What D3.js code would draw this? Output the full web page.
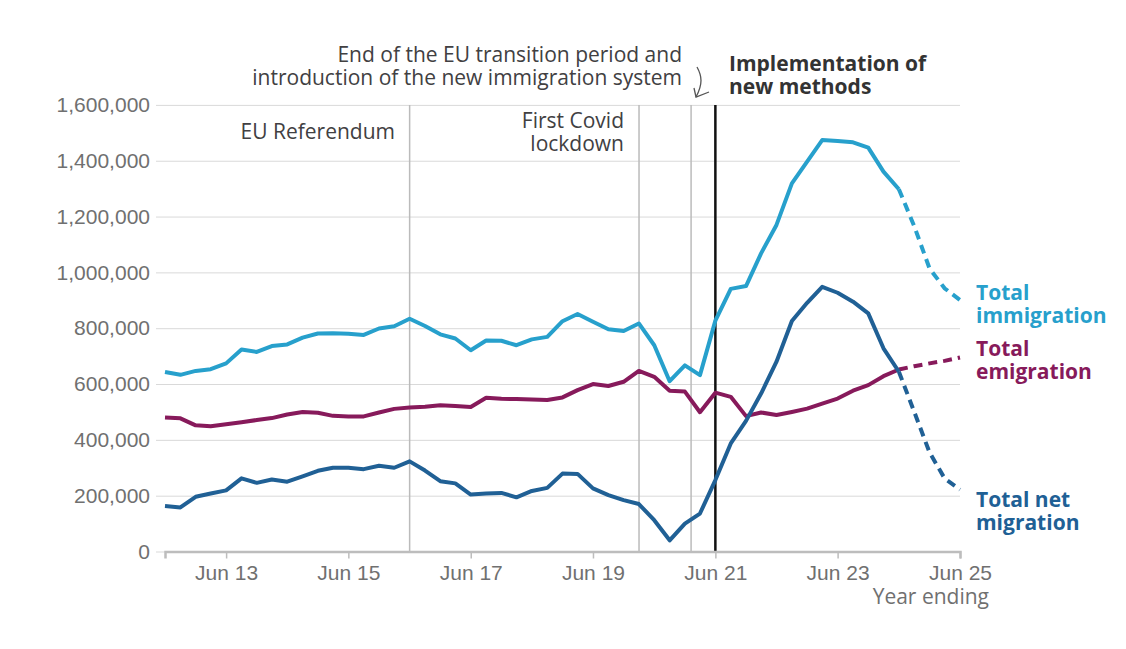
<!DOCTYPE html>
<html>
<head>
<meta charset="utf-8">
<script src="https://cdn.jsdelivr.net/npm/d3@7"></script>
<style>
  body { margin: 0; background: #fff; }
  svg { font-family: "Open Sans", sans-serif; }
</style>
</head>
<body>
<div id="chart"></div>
<script>
// quarterly, year ending Jun 2012 .. Jun 2024 (thousands)
let quarters = d3.range(49).map(i => new Date(2012, 5 + i * 3, 30));
let projQuarters = d3.range(5).map(i => new Date(2024, 5 + i * 3, 30));

let immigration = [643, 633, 647, 653, 674, 724, 715, 736, 742, 766, 781, 782, 780, 776, 799, 807, 834,
  808, 778, 763, 721, 756, 755, 739, 760, 769, 825, 851, 823, 796, 790, 817, 739, 610, 667, 632, 827,
  941, 951, 1068, 1170, 1319, 1397, 1474, 1471, 1466, 1447, 1361, 1298];
let emigration = [480, 477, 452, 449, 456, 463, 471, 478, 491, 500, 497, 486, 484, 484, 498, 511, 516,
  519, 524, 521, 518, 551, 547, 546, 545, 543, 552, 578, 600, 593, 608, 647, 626, 576, 573, 499, 569,
  554, 485, 498, 489, 500, 512, 530, 548, 576, 596, 628, 652];
let netMigration = [163, 158, 196, 208, 219, 262, 246, 258, 250, 269, 289, 300, 300, 295, 307, 300, 323,
  290, 252, 244, 204, 208, 210, 194, 217, 228, 279, 278, 226, 202, 184, 170, 112, 40, 100, 136, 256,
  387, 468, 566, 680, 826, 891, 948, 927, 895, 853, 728, 644];

// projections, Jun 2024 .. Jun 2025
let immigrationProj = [1298, 1165, 1014, 943, 901];
let emigrationProj = [652, 664, 674, 683, 695];
let netProj = [644, 500, 355, 262, 222];

let yTicks = [0, 200000, 400000, 600000, 800000, 1000000, 1200000, 1400000, 1600000];
let xTicks = [2013, 2015, 2017, 2019, 2021, 2023, 2025].map(y => new Date(y, 5, 30));

let seriesInfo = [
  {name: ["Total", "immigration"], values: immigration, proj: immigrationProj, color: "#27A0CC", labelY: 300},
  {name: ["Total", "emigration"], values: emigration, proj: emigrationProj, color: "#871A5B", labelY: 356},
  {name: ["Total net", "migration"], values: netMigration, proj: netProj, color: "#206095", labelY: 507}
];

let events = [
  {date: new Date(2016, 5, 30), color: "#bbb", width: 1.5},
  {date: new Date(2020, 2, 31), color: "#bbb", width: 1.5},
  {date: new Date(2021, 1, 5), color: "#bbb", width: 1.5},
  {date: new Date(2021, 5, 30), color: "#111", width: 2.5}
];

let width = 1126;
let height = 649;
let margin = {top: 104.9, bottom: 551.5, left: 165, right: 960};
let fontSize = "21px";

let svg = d3.select("#chart").append("svg")
  .attr("width", width)
  .attr("height", height);

let x = d3.scaleTime()
  .domain([new Date(2012, 5, 30), new Date(2025, 5, 30)])
  .range([margin.left, margin.right]);

let y = d3.scaleLinear()
  .domain([0, 1600000])
  .range([margin.bottom, margin.top]);

// y grid + labels
let yAxis = svg.append("g")
  .attr("transform", "translate(156,0)")
  .call(d3.axisLeft(y).tickValues(yTicks).tickSize(-(margin.right - 156)).tickPadding(6).tickFormat(d3.format(",")));
yAxis.select(".domain").remove();
yAxis.selectAll("line").attr("stroke", "#d9d9d9").attr("stroke-width", 1);
yAxis.selectAll("text").attr("fill", "#707070").style("font-size", fontSize);

// event lines
svg.selectAll(".event")
  .data(events)
  .enter()
  .append("line")
  .attr("x1", d => x(d.date))
  .attr("x2", d => x(d.date))
  .attr("y1", margin.top)
  .attr("y2", margin.bottom)
  .attr("stroke", d => d.color)
  .attr("stroke-width", d => d.width);

// x axis
let xAxis = svg.append("g")
  .attr("transform", `translate(0,${margin.bottom})`)
  .call(d3.axisBottom(x).tickValues(xTicks).tickSize(7).tickPadding(7).tickFormat(d3.timeFormat("Jun %y")));
xAxis.select(".domain").attr("stroke", "#bdbdbd").attr("stroke-width", 2.5);
xAxis.selectAll("line").attr("stroke", "#bdbdbd").attr("stroke-width", 1.5);
xAxis.selectAll("text").attr("fill", "#707070").style("font-size", fontSize);

svg.append("text")
  .attr("x", 989)
  .attr("y", 604)
  .attr("text-anchor", "end")
  .attr("fill", "#707070")
  .style("font-size", fontSize)
  .text("Year ending");

// lines
let line = d3.line()
  .x(d => x(d[0]))
  .y(d => y(d[1] * 1000));

seriesInfo.forEach(s => {
  svg.append("path")
    .datum(quarters.map((q, i) => [q, s.values[i]]))
    .attr("d", line)
    .attr("fill", "none")
    .attr("stroke", s.color)
    .attr("stroke-width", 4)
    .attr("stroke-linejoin", "round");

  svg.append("path")
    .datum(projQuarters.map((q, i) => [q, s.proj[i]]))
    .attr("d", line)
    .attr("fill", "none")
    .attr("stroke", s.color)
    .attr("stroke-width", 4)
    .attr("stroke-dasharray", "9,6");

  let t = svg.append("text")
    .attr("x", 976)
    .attr("y", s.labelY)
    .attr("fill", s.color)
    .style("font-size", fontSize)
    .style("font-weight", "bold");
  s.name.forEach((n, i) => {
    t.append("tspan").attr("x", 976).attr("dy", i === 0 ? 0 : 22.7).text(n);
  });
});

// annotations
function multiText(lines, xPos, yPos, anchor, color, weight) {
  let t = svg.append("text")
    .attr("x", xPos)
    .attr("y", yPos)
    .attr("text-anchor", anchor)
    .attr("fill", color)
    .style("font-size", fontSize)
    .style("font-weight", weight);
  lines.forEach((l, i) => {
    t.append("tspan").attr("x", xPos).attr("dy", i === 0 ? 0 : 23).text(l);
  });
}

multiText(["EU Referendum"], 395, 139, "end", "#414042", "normal");
multiText(["First Covid", "lockdown"], 624, 128, "end", "#414042", "normal");
multiText(["End of the EU transition period and", "introduction of the new immigration system"], 682, 61.5, "end", "#414042", "normal");
multiText(["Implementation of", "new methods"], 729, 71, "start", "#333", "bold");

// small curved arrow
svg.append("path")
  .attr("d", "M697,67 C702,76 703,84 696,97")
  .attr("fill", "none")
  .attr("stroke", "#555")
  .attr("stroke-width", 1.3);
svg.append("path")
  .attr("d", "M694,88 L696,97 L709,92")
  .attr("fill", "none")
  .attr("stroke", "#555")
  .attr("stroke-width", 1.3);
</script>
</body>
</html>
